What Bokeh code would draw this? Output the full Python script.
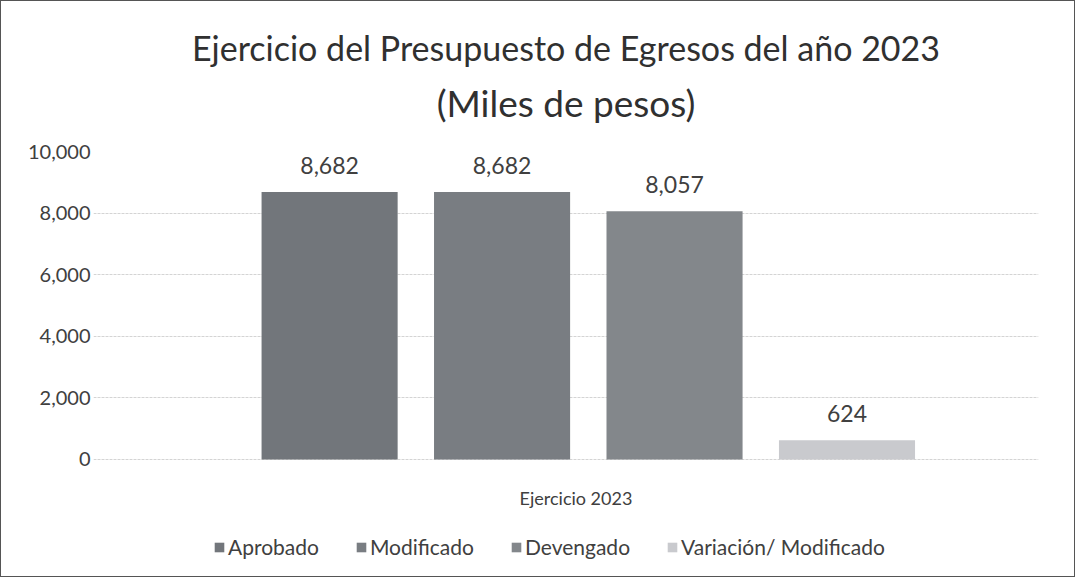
from bokeh.plotting import figure
from bokeh.models import ColumnDataSource, FactorRange, Range1d, LabelSet, Legend, LegendItem, NumeralTickFormatter, FixedTicker, Title
from bokeh.core.properties import value
from bokeh.transform import dodge
from bokeh.embed import file_html
from bokeh.resources import INLINE

group = "Ejercicio 2023"
series = ["Aprobado", "Modificado", "Devengado", "Variación/ Modificado"]
values = [8682, 8682, 8057, 624]
colors = ["#72767b", "#797d82", "#83878b", "#c9cace"]
yticks = [0, 2000, 4000, 6000, 8000, 10000]
title_lines = ["Ejercicio del Presupuesto de Egresos del año 2023", "(Miles de pesos)"]

FONT = "Lato"
TXT = "#404040"

# frame extends below the zero line to hold the category label and legend
p = figure(frame_width=945, frame_height=425, x_range=FactorRange(group), y_range=Range1d(-3800, 10000),
           output_backend="svg", toolbar_location=None,
           min_border_left=92, min_border_right=36, min_border_top=150, min_border_bottom=0)
p.styles = {"border": "1px solid #555555"}
p.title.text = title_lines[0]
p.title.align = "center"
p.title.text_font = FONT
p.title.text_font_size = "34px"
p.title.text_font_style = "normal"
p.title.text_color = "#303030"
p.title.standoff = 12
spacer = Title(text=" ", text_font_size="18px", standoff=0)
p.add_layout(spacer, "above")
t2 = Title(text=title_lines[1], align="center", text_font=FONT, text_font_size="37px",
           text_font_style="normal", text_color="#303030", standoff=9)
p.add_layout(t2, "above")

spacing = 0.1825
bw = 0.144
items = []
for i, (s, v, c) in enumerate(zip(series, values, colors)):
    off = (i - 1.5) * spacing + 0.0236
    src = ColumnDataSource(dict(x=[group], y=[v], t=[f"{v:,}"]))
    r = p.vbar(x=dodge("x", off, range=p.x_range), top="y", width=bw, source=src,
               fill_color=c, line_color=None)
    items.append(LegendItem(label=s, renderers=[r]))
    p.add_layout(LabelSet(x=dodge("x", off, range=p.x_range), y="y", text="t", source=src,
                          text_align="center", text_baseline="bottom", y_offset=18,
                          text_font=value(FONT), text_font_size="23px", text_color=TXT))

# category label under the zero line
cat_src = ColumnDataSource(dict(x=[group], y=[yticks[0]], t=[group]))
p.add_layout(LabelSet(x="x", y="y", text="t", source=cat_src, text_align="center",
                      text_baseline="top", y_offset=-28, x_offset=10, text_font=value(FONT),
                      text_font_size="18px", text_color=TXT))
p.xaxis.visible = False

p.yaxis.ticker = FixedTicker(ticks=yticks)
p.yaxis.formatter = NumeralTickFormatter(format="0,0")
p.yaxis.axis_line_color = None
p.yaxis.major_tick_line_color = None
p.yaxis.minor_tick_line_color = None
p.yaxis.major_tick_out = 0
p.yaxis.major_label_text_font = FONT
p.yaxis.major_label_text_font_size = "20px"
p.yaxis.major_label_text_color = TXT
p.yaxis.major_label_standoff = 3

p.xgrid.grid_line_color = None
p.ygrid.grid_line_color = "#d4d4d4"
p.ygrid.grid_line_dash = "3 1"
p.outline_line_color = None

legend = Legend(items=items, orientation="horizontal", location=(120, 17),
                label_text_font=FONT, label_text_font_size="21px", label_text_color=TXT,
                glyph_width=12, glyph_height=12, spacing=36, label_standoff=3,
                border_line_color=None, background_fill_alpha=0, padding=6, margin=0)
p.add_layout(legend, "center")

open("out.html", "w").write(file_html(p, INLINE))
